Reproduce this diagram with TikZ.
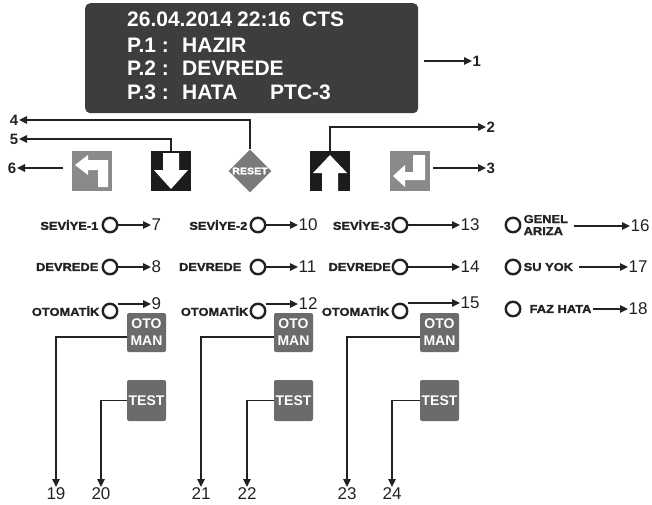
\documentclass[tikz,border=0pt]{standalone}
\usepackage{fontspec}
\setmainfont{Liberation Sans}
\newfontfamily\lblfont[FakeStretch=1.12,FakeBold=1.6]{Liberation Sans}
\usetikzlibrary{arrows.meta,shapes.geometric}
\definecolor{dispc}{HTML}{3D3D3D}
\definecolor{blackbtn}{HTML}{1C1C1C}
\definecolor{graybtn}{HTML}{8A8A8A}
\definecolor{resetc}{HTML}{7A7A7A}
\definecolor{otoc}{HTML}{6B6B6B}
\definecolor{linec}{HTML}{222222}
\begin{document}
\begin{tikzpicture}[x=1pt,y=-1pt,
  arr/.style={line width=1.3pt, draw=linec, -{Triangle[length=8pt,width=7.5pt]}},
  num/.style={font=\fontsize{17}{17}\selectfont, inner sep=0.5pt, text=linec},
  bnum/.style={font=\bfseries\fontsize{15}{15}\selectfont, inner sep=0.5pt, text=linec},
  lbl/.style={font=\lblfont\bfseries\fontsize{11.5}{12}\selectfont, inner sep=0pt, text=linec, align=left},
  led/.style={circle, draw=linec, line width=2.4pt, minimum size=14.5pt, inner sep=0pt},
  disptext/.style={font=\bfseries\fontsize{21}{21}\selectfont, text=white, inner sep=0pt, anchor=west},
  keybtn/.style={minimum width=40pt, minimum height=40pt, inner sep=0pt},
  otobtn/.style={fill=otoc, rounded corners=2pt, minimum width=39pt, minimum height=39pt, inner sep=0pt,
     text=white, font=\bfseries\fontsize{14}{17}\selectfont, align=center},
  icon/.style={fill=white, draw=none}
]
\useasboundingbox (0,0) rectangle (652,504);

% ---------- display ----------
\node[fill=dispc, rounded corners=5pt, minimum width=333pt, minimum height=110pt, anchor=north west, inner sep=0pt] (disp) at (85,3) {};
\node[disptext] (t1a) at (127,19) {26.04.2014};
\node[disptext] (t1b) at (237,19) {22:16};
\node[disptext] (t1c) at (302,19) {CTS};
\node[disptext] (t2a) at (127,45) {P.1 :};
\node[disptext] (t2b) at (182,45) {HAZIR};
\node[disptext] (t3a) at (127,68) {P.2 :};
\node[disptext] (t3b) at (182,68) {DEVREDE};
\node[disptext] (t4a) at (127,92) {P.3 :};
\node[disptext] (t4b) at (182,92) {HATA};
\node[disptext] (t4c) at (270,92) {PTC-3};
\node[bnum, anchor=west] (n1) at (472,61) {1};
\draw[arr] (disp.east |- n1.west) ++(6,0) -- (n1.west);

% ---------- keys ----------
\node[keybtn, fill=graybtn] (back) at (91.5,171) {};
\node[keybtn, fill=blackbtn] (down) at (171,171) {};
\node[diamond, fill=resetc, minimum size=43pt, inner sep=0pt, font=\lblfont\bfseries\fontsize{9.5}{10}\selectfont, text=white] (reset) at (250,171) {RESET};
\node[keybtn, fill=blackbtn] (up) at (330,171) {};
\node[keybtn, fill=graybtn] (enter) at (410,171) {};

% icons
\begin{scope}[shift={(back.center)}]
  \fill[icon] (-16.5,-6) -- (-3.5,-16) -- (-3.5,-11) -- (16.5,-11) -- (16.5,16) -- (6.5,16) -- (6.5,-1) -- (-3.5,-1) -- (-3.5,4) -- cycle;
\end{scope}
\begin{scope}[shift={(down.center)}]
  \fill[icon] (-8,-18) -- (8,-18) -- (8,-1) -- (17,-1) -- (0,18) -- (-17,-1) -- (-8,-1) -- cycle;
\end{scope}
\begin{scope}[shift={(up.center)}]
  \fill[icon] (-8,20) -- (8,20) -- (8,2) -- (17,2) -- (0,-16) -- (-17,2) -- (-8,2) -- cycle;
\end{scope}
\begin{scope}[shift={(enter.center)}]
  \fill[icon] (-17,5) -- (-5,-6) -- (-5,1) -- (3,1) -- (3,-16) -- (15,-16) -- (15,9) -- (-5,9) -- (-5,16) -- cycle;
\end{scope}

% key callouts
\node[bnum, anchor=east] (n4) at (19,120) {4};
\node[bnum, anchor=east] (n5) at (19,139) {5};
\node[bnum, anchor=east] (n6) at (17,168) {6};
\node[bnum, anchor=west] (n2) at (486,127) {2};
\node[bnum, anchor=west] (n3) at (486,168) {3};
\draw[arr] (reset.north) |- (n4.east);
\draw[arr] (down.north) |- (n5.east);
\draw[arr] (back.west |- n6.east) ++(-8,0) -- (n6.east);
\draw[arr] (up.north) |- (n2.west);
\draw[arr] (enter.east |- n3.west) ++(3,0) -- (n3.west);

% ---------- indicators ----------
% column 1
\node[led] (l7) at (110,225) {};
\node[led] (l8) at (110,267) {};
\node[led] (l9) at (110,311) {};
\node[lbl, anchor=east] (s7) at ([xshift=-3pt]l7.west) {SEVİYE-1};
\node[lbl, anchor=east] (s8) at ([xshift=-3pt]l8.west) {DEVREDE};
\node[lbl, anchor=east] (s9) at ([xshift=-2pt]l9.west) {OTOMATİK};
\node[num, anchor=west] (n7) at (151,225) {7};
\node[num, anchor=west] (n8) at (151,267) {8};
\node[num, anchor=west] (n9) at (151,304) {9};
\draw[arr] (l7.east) -- (n7.west);
\draw[arr] (l8.east) -- (n8.west);
\draw[arr] (l9.east |- n9.west) -- (n9.west);

% column 2
\node[led] (l10) at (258,225) {};
\node[led] (l11) at (258,267) {};
\node[led] (l12) at (258,311) {};
\node[lbl, anchor=east] (s10) at ([xshift=-2pt]l10.west) {SEVİYE-2};
\node[lbl, anchor=east] (s11) at ([xshift=-8pt]l11.west) {DEVREDE};
\node[lbl, anchor=east] (s12) at ([xshift=-1pt]l12.west) {OTOMATİK};
\node[num, anchor=west] (n10) at (298,225) {10};
\node[num, anchor=west] (n11) at (298,267) {11};
\node[num, anchor=west] (n12) at (298,304) {12};
\draw[arr] (l10.east) -- (n10.west);
\draw[arr] (l11.east) -- (n11.west);
\draw[arr] (l12.east |- n12.west) -- (n12.west);

% column 3
\node[led] (l13) at (400,225) {};
\node[led] (l14) at (400,267) {};
\node[led] (l15) at (400,311) {};
\node[lbl, anchor=east] (s13) at ([xshift=-0.5pt]l13.west) {SEVİYE-3};
\node[lbl, anchor=east] (s14) at ([xshift=-0.5pt]l14.west) {DEVREDE};
\node[lbl, anchor=east] (s15) at ([xshift=-2pt]l15.west) {OTOMATİK};
\node[num, anchor=west] (n13) at (460,225) {13};
\node[num, anchor=west] (n14) at (460,267) {14};
\node[num, anchor=west] (n15) at (460,303) {15};
\draw[arr] (l13.east) -- (n13.west);
\draw[arr] (l14.east) -- (n14.west);
\draw[arr] (l15.east |- n15.west) -- (n15.west);

% column 4
\node[led] (l16) at (513,225) {};
\node[led] (l17) at (513,267) {};
\node[led] (l18) at (513,309) {};
\node[lbl, anchor=west] (s16) at ([xshift=2pt]l16.east) {GENEL\\ARIZA};
\node[lbl, anchor=west] (s17) at ([xshift=2pt]l17.east) {SU YOK};
\node[lbl, anchor=west] (s18) at ([xshift=8pt]l18.east) {FAZ HATA};
\node[num, anchor=west] (n16) at (630,226) {16};
\node[num, anchor=west] (n17) at (628,267) {17};
\node[num, anchor=west] (n18) at (628,309) {18};
\draw[arr] (s16.east |- n16.west) ++(6,0) -- (n16.west);
\draw[arr] (s17.east |- n17.west) ++(6,0) -- (n17.west);
\draw[arr] (s18.east |- n18.west) ++(1,0) -- (n18.west);

% ---------- OTO/MAN and TEST ----------
\node[otobtn] (om1) at (146.5,332.5) {OTO\\MAN};
\node[otobtn] (om2) at (293.5,332.5) {OTO\\MAN};
\node[otobtn] (om3) at (439.5,332.5) {OTO\\MAN};
\node[otobtn, minimum height=41pt] (ts1) at (146.5,400.5) {TEST};
\node[otobtn, minimum height=41pt] (ts2) at (293.5,400.5) {TEST};
\node[otobtn, minimum height=41pt] (ts3) at (439.5,400.5) {TEST};

\node[num, anchor=north] (n19) at (56,487) {19};
\node[num, anchor=north] (n20) at (101,487) {20};
\node[num, anchor=north] (n21) at (201,487) {21};
\node[num, anchor=north] (n22) at (247,487) {22};
\node[num, anchor=north] (n23) at (347,487) {23};
\node[num, anchor=north] (n24) at (392,487) {24};
\draw[arr] ([yshift=-4.5pt]om1.west) -| (n19.north);
\draw[arr] (ts1.west) -| (n20.north);
\draw[arr] ([yshift=-4.5pt]om2.west) -| (n21.north);
\draw[arr] (ts2.west) -| (n22.north);
\draw[arr] ([yshift=-4.5pt]om3.west) -| (n23.north);
\draw[arr] (ts3.west) -| (n24.north);
\end{tikzpicture}
\end{document}
